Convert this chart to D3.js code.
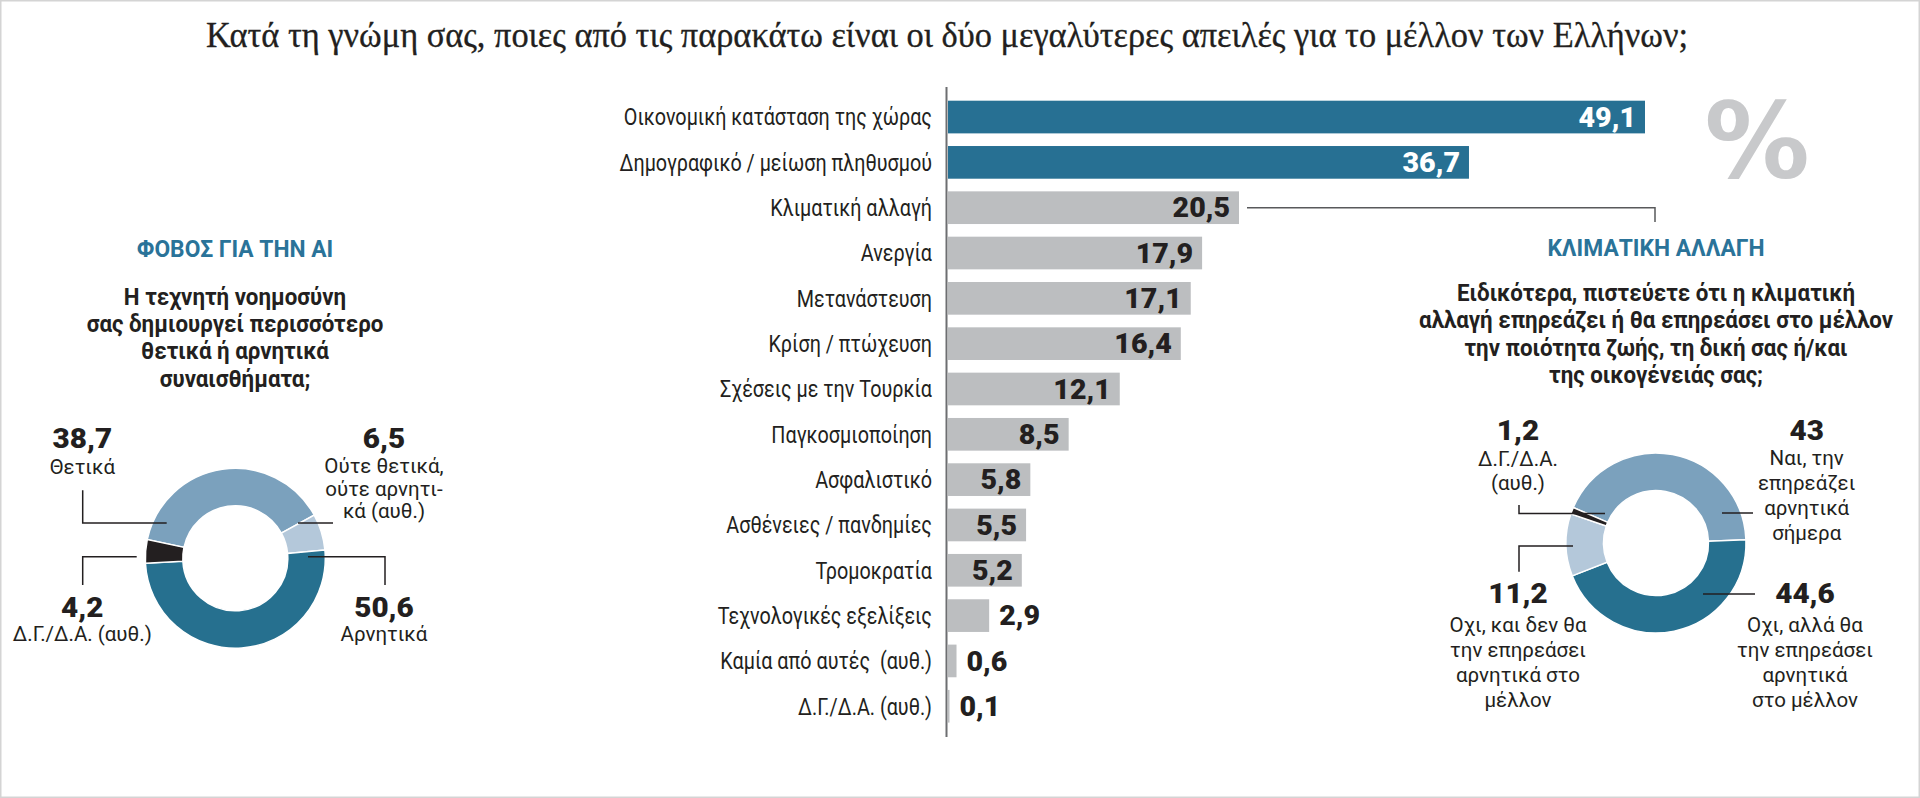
<!DOCTYPE html>
<html>
<head>
<meta charset="utf-8">
<script src="https://cdn.jsdelivr.net/npm/d3@7"></script>
<style>
  body { margin: 0; background: #fff; }
  svg { display: block; }
  text { font-family: Roboto, "Noto Sans", sans-serif; fill: #231f20; white-space: pre; }
</style>
</head>
<body>
<svg id="chart" width="1920" height="798"></svg>
<script>
// κύρια ερώτηση - ράβδοι
const categories = [
  "Οικονομική κατάσταση της χώρας",
  "Δημογραφικό / μείωση πληθυσμού",
  "Κλιματική αλλαγή",
  "Ανεργία",
  "Μετανάστευση",
  "Κρίση / πτώχευση",
  "Σχέσεις με την Τουρκία",
  "Παγκοσμιοποίηση",
  "Ασφαλιστικό",
  "Ασθένειες / πανδημίες",
  "Τρομοκρατία",
  "Τεχνολογικές εξελίξεις",
  "Καμία από αυτές  (αυθ.)",
  "Δ.Γ./Δ.Α. (αυθ.)"
];
const values = [49.1, 36.7, 20.5, 17.9, 17.1, 16.4, 12.1, 8.5, 5.8, 5.5, 5.2, 2.9, 0.6, 0.1];

// φόβος για την ΑΙ
const aiLabels = ["Θετικά", "Ούτε θετικά, ούτε αρνητικά (αυθ.)", "Αρνητικά", "Δ.Γ./Δ.Α. (αυθ.)"];
const aiValues = [38.7, 6.5, 50.6, 4.2];

// κλιματική αλλαγή
const climateLabels = [
  "Ναι, την επηρεάζει αρνητικά σήμερα",
  "Οχι, αλλά θα την επηρεάσει αρνητικά στο μέλλον",
  "Οχι, και δεν θα την επηρεάσει αρνητικά στο μέλλον",
  "Δ.Γ./Δ.Α. (αυθ.)"
];
const climateValues = [43, 44.6, 11.2, 1.2];

const fmt = v => String(v).replace(".", ",");

const svg = d3.select("#chart");
const W = 1920, H = 798;

svg.append("rect")
  .attr("x", 0.75).attr("y", 0.75)
  .attr("width", W - 1.5).attr("height", H - 1.5)
  .attr("fill", "#fff").attr("stroke", "#d4d4d4").attr("stroke-width", 1.5);

// τίτλος
svg.append("text")
  .attr("x", 947).attr("y", 46.7)
  .attr("text-anchor", "middle")
  .attr("textLength", 1482)
  .attr("lengthAdjust", "spacingAndGlyphs")
  .style("font-family", "'Liberation Serif', 'DejaVu Serif', serif")
  .style("font-size", "35px")
  .style("stroke", "#231f20").style("stroke-width", 0.3)
  .text("Κατά τη γνώμη σας, ποιες από τις παρακάτω είναι οι δύο μεγαλύτερες απειλές για το μέλλον των Ελλήνων;");

// ---------- ράβδοι ----------
const bar = { x0: 948, x1: 1645, y0: 100.7, y1: 722.6 };
const scX = d3.scaleLinear().domain([0, d3.max(values)]).range([bar.x0, bar.x1]);
const scY = d3.scaleBand().domain(categories).range([bar.y0, bar.y1])
  .paddingInner(0.279).paddingOuter(0);

const rows = categories.map((c, i) => ({ cat: c, val: values[i], top: i < 2 }));
const midY = d => scY(d.cat) + scY.bandwidth() / 2;

const gBars = svg.append("g");
gBars.selectAll("rect.bar")
  .data(rows)
  .enter()
  .append("rect")
  .attr("class", "bar")
  .attr("x", scX(0))
  .attr("y", d => scY(d.cat))
  .attr("width", d => Math.max(scX(d.val) - scX(0), 1.5))
  .attr("height", scY.bandwidth())
  .attr("fill", d => d.top ? "#277093" : "#bcbec0");

// άξονας
svg.append("line")
  .attr("x1", 946.5).attr("x2", 946.5)
  .attr("y1", 87).attr("y2", 737)
  .attr("stroke", "#6d6e71").attr("stroke-width", 2);

// ετικέτες κατηγοριών (στενά γράμματα)
gBars.selectAll("text.cat")
  .data(rows)
  .enter()
  .append("text")
  .attr("class", "cat")
  .attr("transform", d => `translate(932,${midY(d)}) scale(0.86,1)`)
  .attr("dy", "0.36em")
  .attr("text-anchor", "end")
  .style("font-size", "23px")
  .text(d => d.cat);

// τιμές
gBars.selectAll("text.val")
  .data(rows)
  .enter()
  .append("text")
  .attr("class", "val")
  .attr("transform", d => {
    const x = d.val >= 5 ? scX(d.val) - 9 : scX(d.val) + 10;
    return `translate(${x},${midY(d)}) scale(1.06,1)`;
  })
  .attr("dy", "0.36em")
  .attr("text-anchor", d => d.val >= 5 ? "end" : "start")
  .style("font-size", "27px")
  .style("font-weight", 900)
  .style("fill", d => d.top ? "#fff" : "#231f20")
  .text(d => fmt(d.val));

// %
svg.append("text")
  .attr("x", 1757).attr("y", 178)
  .attr("text-anchor", "middle")
  .style("font-family", "'DejaVu Sans', sans-serif")
  .style("font-weight", 700)
  .style("font-size", "105px")
  .style("fill", "#c8c9cb")
  .text("%");

// σύνδεση κλιματικής αλλαγής με το δεξί γράφημα
const climRow = midY(rows[2]);
svg.append("path")
  .attr("d", d3.line()([[scX(values[2]) + 8, climRow], [1655, climRow], [1655, 222]]))
  .attr("fill", "none").attr("stroke", "#58595b").attr("stroke-width", 1.5);

// ---------- βοηθητικές ----------
function panelHead(cx, title, lines, titleY, firstY) {
  svg.append("text")
    .attr("transform", `translate(${cx},${titleY}) scale(0.95,1)`)
    .attr("text-anchor", "middle")
    .style("font-size", "24px").style("font-weight", 700)
    .style("fill", "#2a7399")
    .text(title);
  svg.append("g").selectAll("text")
    .data(lines)
    .enter()
    .append("text")
    .attr("transform", (d, i) => `translate(${cx},${firstY + i * 27.4}) scale(0.93,1)`)
    .attr("text-anchor", "middle")
    .style("font-size", "24px").style("font-weight", 700)
    .text(d => d);
}

function donut(cx, cy, vals, colors, start, notes) {
  const pie = d3.pie().sort(null).value(d => d)
    .startAngle(start).endAngle(start + 2 * Math.PI);
  const arc = d3.arc().innerRadius(52.5).outerRadius(90);
  const g = svg.append("g").attr("transform", `translate(${cx},${cy})`);
  g.selectAll("path")
    .data(pie(vals))
    .enter()
    .append("path")
    .attr("d", arc)
    .attr("fill", (d, i) => colors[i])
    .attr("stroke", "#fff").attr("stroke-width", 1.5);

  notes.forEach(n => {
    g.append("path")
      .attr("d", d3.line()(n.leader))
      .attr("fill", "none").attr("stroke", "#231f20").attr("stroke-width", 1.5);
    g.append("text")
      .attr("transform", `translate(${n.x},${n.y}) scale(1.06,1)`)
      .attr("text-anchor", "middle")
      .style("font-size", "28px").style("font-weight", 900)
      .text(fmt(vals[n.idx]));
    g.append("g").selectAll("text")
      .data(n.lines)
      .enter()
      .append("text")
      .attr("x", n.x)
      .attr("y", (d, i) => n.y + n.first + i * n.step)
      .attr("text-anchor", "middle")
      .style("font-size", "20.5px")
      .text(d => d);
  });
}

// ---------- αριστερά: ΑΙ ----------
panelHead(235, "ΦΟΒΟΣ ΓΙΑ ΤΗΝ ΑΙ",
  ["Η τεχνητή νοημοσύνη", "σας δημιουργεί περισσότερο", "θετικά ή αρνητικά", "συναισθήματα;"],
  256.7, 304.5);

donut(235.3, 558.3, aiValues,
  ["#7ba1bd", "#b4c8da", "#26708f", "#231f20"],
  -78 * Math.PI / 180,
  [
    { idx: 0, x: -153, y: -110, first: 26, step: 23, lines: ["Θετικά"],
      leader: [[-152.6, -68], [-152.6, -35.3], [-68.6, -35.3]] },
    { idx: 1, x: 148.7, y: -110, first: 25, step: 22.5, lines: ["Ούτε θετικά,", "ούτε αρνητι-", "κά (αυθ.)"],
      leader: [[62.7, -35.3], [97.7, -35.3]] },
    { idx: 3, x: -153, y: 58.5, first: 24, step: 23, lines: ["Δ.Γ./Δ.Α. (αυθ.)"],
      leader: [[-98.6, -1.6], [-152.6, -1.6], [-152.6, 26.7]] },
    { idx: 2, x: 148.7, y: 58.5, first: 24, step: 23, lines: ["Αρνητικά"],
      leader: [[72.7, -1.6], [149.7, -1.6], [149.7, 26.7]] }
  ]);

// ---------- δεξιά: κλιματική αλλαγή ----------
panelHead(1656, "ΚΛΙΜΑΤΙΚΗ ΑΛΛΑΓΗ",
  ["Ειδικότερα, πιστεύετε ότι η κλιματική", "αλλαγή επηρεάζει ή θα επηρεάσει στο μέλλον",
   "την ποιότητα ζωής, τη δική σας ή/και", "της οικογένειάς σας;"],
  256, 301);

donut(1656, 543, climateValues,
  ["#7ba1bd", "#26708f", "#b4c8da", "#231f20"],
  -66.8 * Math.PI / 180,
  [
    { idx: 3, x: -138, y: -103, first: 26, step: 24, lines: ["Δ.Γ./Δ.Α.", "(αυθ.)"],
      leader: [[-137, -38], [-137, -29.5], [-51, -29.5]] },
    { idx: 0, x: 150.7, y: -103, first: 25, step: 25, lines: ["Ναι, την", "επηρεάζει", "αρνητικά", "σήμερα"],
      leader: [[66, -30], [97, -30]] },
    { idx: 2, x: -138, y: 60, first: 29, step: 25, lines: ["Οχι, και δεν θα", "την επηρεάσει", "αρνητικά στο", "μέλλον"],
      leader: [[-83, 3], [-137, 3], [-137, 28.7]] },
    { idx: 1, x: 149, y: 60, first: 29, step: 25, lines: ["Οχι, αλλά θα", "την επηρεάσει", "αρνητικά", "στο μέλλον"],
      leader: [[47, 51], [99, 51]] }
  ]);
</script>
</body>
</html>
